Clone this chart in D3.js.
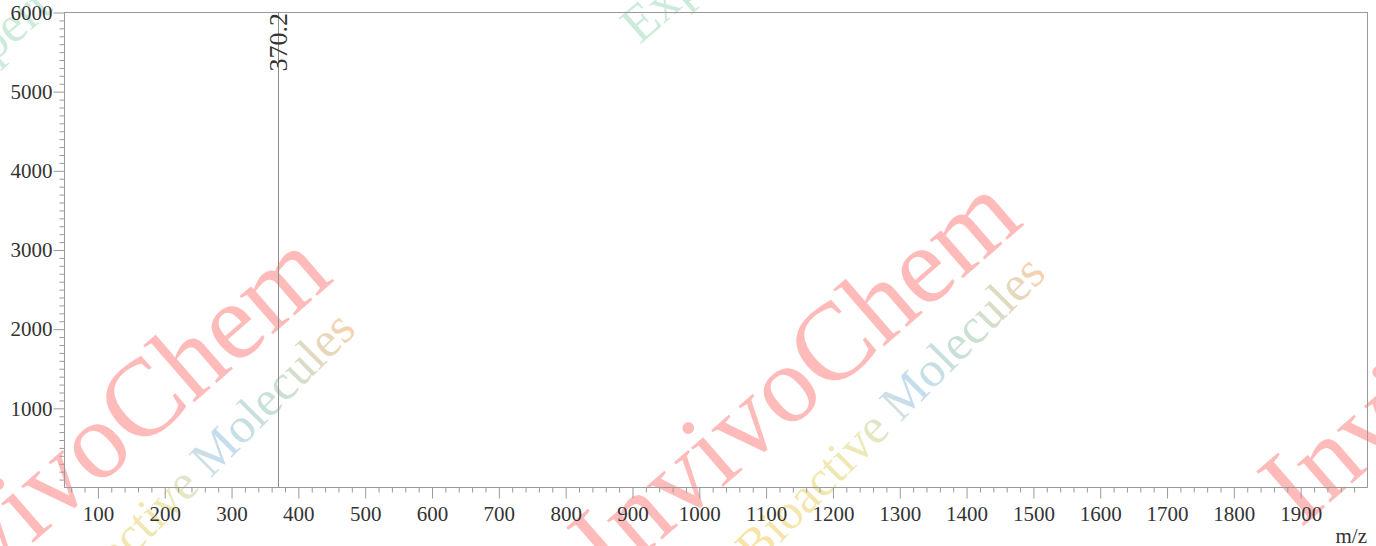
<!DOCTYPE html>
<html>
<head>
<meta charset="utf-8">
<script src="https://cdn.jsdelivr.net/npm/d3@7"></script>
<style>
  html, body { margin: 0; padding: 0; background: #fff; }
  svg { display: block; }
  svg text { font-family: "Liberation Serif", "Times New Roman", Times, serif; }
</style>
</head>
<body>
<script>
// peaks: m/z and intensity
const peakMz = [370.2]
const peakIntensity = [6000]
const peakLabels = ["370.2"]

const xDomain = [50, 2000]
const yDomain = [0, 6000]
const xMajorTicks = [100, 200, 300, 400, 500, 600, 700, 800, 900, 1000,
  1100, 1200, 1300, 1400, 1500, 1600, 1700, 1800, 1900]
const yMajorTicks = [1000, 2000, 3000, 4000, 5000, 6000]
const xLabel = "m/z"

const width = 1376
const height = 546
const margin = { top: 12, right: 9, bottom: 59, left: 64 }
const font = "Liberation Serif"

const svg = d3.select("body").append("svg")
  .attr("width", width)
  .attr("height", height)
  .attr("xmlns", "http://www.w3.org/2000/svg")

const x = d3.scaleLinear().domain(xDomain).range([margin.left, width - margin.right])
const y = d3.scaleLinear().domain(yDomain).range([height - margin.bottom, margin.top])

// watermark, drawn first so the chart sits over it
const defs = svg.append("defs")
const grad = defs.append("linearGradient").attr("id", "bio")
  .attr("x1", "0%").attr("x2", "100%").attr("y1", "0%").attr("y2", "0%")
grad.selectAll("stop")
  .data([["0%", "#f2c23a"], ["40%", "#d8d060"], ["55%", "#7fb4e0"], ["78%", "#8cbf9a"], ["100%", "#f09a50"]])
  .enter().append("stop")
  .attr("offset", d => d[0])
  .attr("stop-color", d => d[1])

const wm = svg.append("g").attr("class", "watermark")
const tiles = [[128, 460], [818, 404], [1508, 348]]
for (const [tx, ty] of tiles) {
  const t = wm.append("g").attr("transform", `translate(${tx},${ty}) rotate(-41)`)
  t.append("text")
    .attr("text-anchor", "middle")
    .attr("font-family", font)
    .attr("font-size", 110)
    .attr("fill", "#ff3030")
    .attr("opacity", 0.33)
    .text("InvivoChem")
  t.append("text")
    .attr("transform", "translate(52,68) rotate(-4)")
    .attr("text-anchor", "middle")
    .attr("font-family", font)
    .attr("font-size", 50)
    .attr("fill", "url(#bio)")
    .attr("opacity", 0.45)
    .text("Bioactive Molecules")
  t.append("text")
    .attr("x", 101)
    .attr("y", -388)
    .attr("font-family", font)
    .attr("font-size", 52)
    .attr("fill", "#5cc08a")
    .attr("opacity", 0.3)
    .text("Expert")
}

// frame
svg.append("rect")
  .attr("x", x(xDomain[0]) + 0.5)
  .attr("y", y(yDomain[1]) + 0.5)
  .attr("width", x(xDomain[1]) - x(xDomain[0]))
  .attr("height", y(yDomain[0]) - y(yDomain[1]))
  .attr("fill", "none")
  .attr("stroke", "#9a9a9a")

const styleAxis = (g) => {
  g.attr("font-family", font).attr("font-size", 21)
  g.select(".domain").remove()
  g.selectAll("line").attr("stroke", "#9a9a9a")
  g.selectAll("text").attr("fill", "#333")
}

// x axis: minor every 20, major every 100
const xMinor = d3.range(60, xDomain[1] + 1, 20).filter(v => v % 100 !== 0)
svg.append("g")
  .attr("transform", `translate(0.5,${y(0) + 0.5})`)
  .call(d3.axisBottom(x).tickValues(xMinor).tickSize(5).tickFormat(""))
  .call(styleAxis)
svg.append("g")
  .attr("transform", `translate(0.5,${y(0) + 0.5})`)
  .call(d3.axisBottom(x).tickValues(xMajorTicks).tickSize(11).tickPadding(8).tickFormat(d3.format("d")))
  .call(styleAxis)

// y axis: minor every 100, major every 1000
const yMinor = d3.range(100, yDomain[1], 100).filter(v => v % 1000 !== 0)
svg.append("g")
  .attr("transform", `translate(${x(xDomain[0]) + 0.5},0.5)`)
  .call(d3.axisLeft(y).tickValues(yMinor).tickSize(5).tickFormat(""))
  .call(styleAxis)
svg.append("g")
  .attr("transform", `translate(${x(xDomain[0]) + 0.5},0.5)`)
  .call(d3.axisLeft(y).tickValues(yMajorTicks).tickSize(11).tickPadding(1).tickFormat(d3.format("d")))
  .call(styleAxis)

// peaks
const peaks = peakMz.map((mz, i) => ({ mz, intensity: peakIntensity[i], label: peakLabels[i] }))
const pk = svg.append("g").attr("class", "peaks")
pk.selectAll("line")
  .data(peaks)
  .enter().append("line")
  .attr("x1", d => Math.round(x(d.mz)) + 0.5)
  .attr("x2", d => Math.round(x(d.mz)) + 0.5)
  .attr("y1", y(0))
  .attr("y2", d => y(d.intensity))
  .attr("stroke", "#8c8c8c")
  .attr("stroke-width", 1)
pk.selectAll("text")
  .data(peaks)
  .enter().append("text")
  .attr("transform", d => `translate(${Math.round(x(d.mz)) + 9},${y(d.intensity) + 1}) rotate(-90)`)
  .attr("text-anchor", "end")
  .attr("fill", "#333")
  .attr("font-family", font)
  .attr("font-size", 26)
  .text(d => d.label)

// axis title
svg.append("text")
  .attr("x", x(xDomain[1]))
  .attr("y", height - 3)
  .attr("text-anchor", "end")
  .attr("fill", "#333")
  .attr("font-family", font)
  .attr("font-size", 21)
  .text(xLabel)
</script>
</body>
</html>
